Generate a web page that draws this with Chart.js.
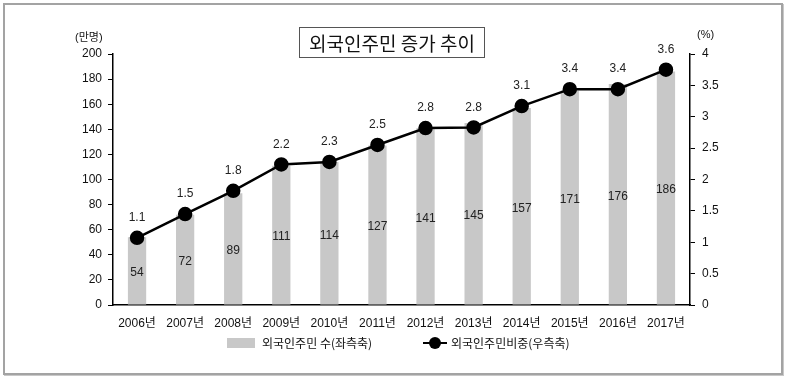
<!DOCTYPE html>
<html>
<head>
<meta charset="utf-8">
<script src="https://cdn.jsdelivr.net/npm/chart.js@4.4.0/dist/chart.umd.min.js"></script>
<style>
  html, body { margin: 0; padding: 0; background: #fff; }
  body { width: 786px; height: 379px; position: relative; overflow: hidden;
         font-family: "Liberation Sans", "Noto Sans CJK KR", sans-serif; }
  #wrap { position: absolute; left: 0; top: 0; width: 786px; height: 379px; }
  .frame { position: absolute; left: 3px; top: 3px; width: 776px; height: 368px;
           border: 2px solid #a3a3a3; box-shadow: 1px 1px 0 #c8c8c8; }
  .title { position: absolute; left: 299px; top: 27px; width: 184px; height: 29px;
           border: 1px solid #555; background: #fff; font-size: 19px; line-height: 29px;
           text-align: center; color: #111; font-family: "Noto Sans CJK KR", sans-serif; }
  .unit { position: absolute; font-size: 11px; color: #111; top: 28px; }
  .leg { position: absolute; font-size: 12px; color: #111; top: 335px; line-height: 16px;
         font-family: "Noto Sans CJK KR", "Liberation Sans", sans-serif; }
  .sw { position: absolute; left: 227px; top: 338px; width: 28px; height: 10px; background: #c8c8c8; }
  .ln { position: absolute; left: 423px; top: 342px; width: 24px; height: 2px; background: #000; }
  .dot { position: absolute; left: 429px; top: 337px; width: 12px; height: 12px; border-radius: 50%; background: #000; }
</style>
</head>
<body>
<div id="wrap"><canvas id="c" width="786" height="379"></canvas></div>
<div class="frame"></div>
<div class="title">외국인주민 증가 추이</div>
<div class="unit" style="left:75px;">(만명)</div>
<div class="unit" style="left:697px;">(%)</div>
<div class="sw"></div>
<div class="leg" style="left:262px;">외국인주민 수(좌측축)</div>
<div class="ln"></div>
<div class="dot"></div>
<div class="leg" style="left:451px;">외국인주민비중(우측축)</div>
<script>
const categories = ['2006년','2007년','2008년','2009년','2010년','2011년','2012년','2013년','2014년','2015년','2016년','2017년'];
const residents = [54, 72, 89, 111, 114, 127, 141, 145, 157, 171, 176, 186];
const shareLabels = ['1.1','1.5','1.8','2.2','2.3','2.5','2.8','2.8','3.1','3.4','3.4','3.6'];
const sharePlotted = [1.07, 1.45, 1.82, 2.24, 2.28, 2.55, 2.82, 2.83, 3.17, 3.44, 3.44, 3.75];
const leftTicks = [0, 20, 40, 60, 80, 100, 120, 140, 160, 180, 200];
const rightTicks = [0, 0.5, 1, 1.5, 2, 2.5, 3, 3.5, 4];

const FONT = '"Liberation Sans", "Noto Sans CJK KR", sans-serif';

const labelPlugin = {
  id: 'labels',
  afterDatasetsDraw(chart) {
    const ctx = chart.ctx;
    ctx.save();
    ctx.font = '12px ' + FONT;
    ctx.fillStyle = '#222';
    ctx.textAlign = 'center';
    ctx.textBaseline = 'middle';
    const barMeta = chart.getDatasetMeta(0);
    barMeta.data.forEach((el, i) => {
      const mid = (el.y + el.base) / 2 + 2;
      ctx.fillText(String(residents[i]), el.x, mid);
    });
    const lineMeta = chart.getDatasetMeta(1);
    lineMeta.data.forEach((el, i) => {
      ctx.fillText(shareLabels[i], el.x, el.y - 20);
    });
    ctx.restore();
  }
};

new Chart(document.getElementById('c'), {
  data: {
    labels: categories,
    datasets: [
      { type: 'bar', label: '외국인주민 수(좌측축)', data: residents, yAxisID: 'y',
        backgroundColor: '#c8c8c8', barPercentage: 0.38, categoryPercentage: 1.0, order: 2 },
      { type: 'line', label: '외국인주민비중(우측축)', data: sharePlotted, yAxisID: 'y1',
        borderColor: '#000', backgroundColor: '#000', borderWidth: 2.5,
        pointRadius: 6, pointHoverRadius: 6, pointBackgroundColor: '#000', tension: 0, order: 1 }
    ]
  },
  options: {
    responsive: false,
    animation: false,
    events: [],
    layout: { padding: { top: 54, left: 0, right: 0, bottom: 0 } },
    plugins: { legend: { display: false }, tooltip: { enabled: false }, title: { display: false } },
    scales: {
      x: {
        offset: true,
        grid: { display: false, drawTicks: false },
        border: { display: true, color: '#000', width: 1.5 },
        ticks: { color: '#111', font: { size: 12, family: FONT }, padding: 11, maxRotation: 0 },
        afterFit: s => { s.height = 74; }
      },
      y: {
        position: 'left', min: 0, max: 200,
        afterBuildTicks: s => { s.ticks = leftTicks.map(v => ({ value: v })); },
        grid: { drawOnChartArea: false, drawTicks: true, tickLength: 5, color: '#000' },
        border: { display: true, color: '#000', width: 1.5 },
        ticks: { color: '#111', font: { size: 12, family: FONT }, padding: 6 },
        afterFit: s => { s.width = 113; }
      },
      y1: {
        position: 'right', min: 0, max: 4,
        afterBuildTicks: s => { s.ticks = rightTicks.map(v => ({ value: v })); },
        grid: { drawOnChartArea: false, drawTicks: true, tickLength: 5, color: '#000' },
        border: { display: true, color: '#000', width: 1.5 },
        ticks: { color: '#111', font: { size: 12, family: FONT }, padding: 7,
                 callback: v => String(v) },
        afterFit: s => { s.width = 96; }
      }
    }
  },
  plugins: [labelPlugin]
});
</script>
</body>
</html>
